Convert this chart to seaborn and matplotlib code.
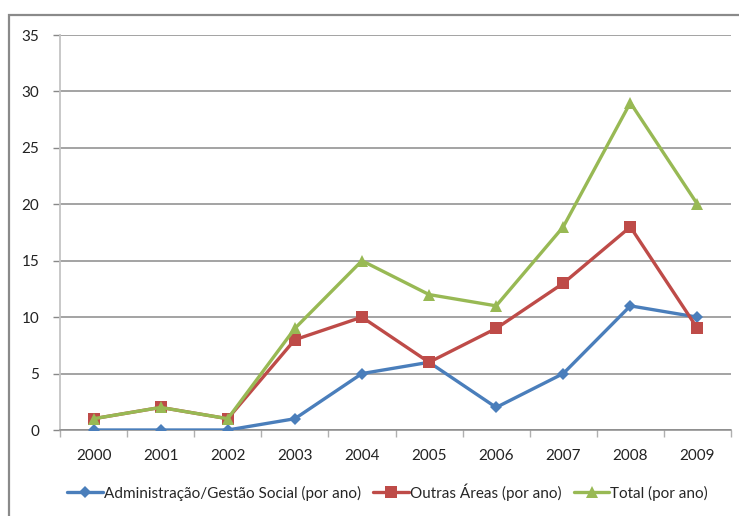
import matplotlib
matplotlib.use("Agg")
import matplotlib.pyplot as plt
import seaborn as sns
import pandas as pd
from matplotlib.patches import Rectangle
from matplotlib.ticker import FixedLocator, NullFormatter

years = ["2000", "2001", "2002", "2003", "2004", "2005", "2006", "2007", "2008", "2009"]
admin_gestao = [0, 0, 0, 1, 5, 6, 2, 5, 11, 10]
outras_areas = [1, 2, 1, 8, 10, 6, 9, 13, 18, 9]
total = [1, 2, 1, 9, 15, 12, 11, 18, 29, 20]

series_names = ["Administração/Gestão Social (por ano)",
                "Outras Áreas (por ano)",
                "Total (por ano)"]
colors = ["#4A7EBB", "#BE4B48", "#98B954"]
markers = ["D", "s", "^"]
marker_sizes = [6.5, 8.5, 8.5]

df = pd.DataFrame({
    "ano": years * 3,
    "valor": admin_gestao + outras_areas + total,
    "serie": [series_names[0]] * len(years) + [series_names[1]] * len(years) + [series_names[2]] * len(years),
})

sns.set_theme(style="white")
plt.rcParams["font.family"] = ["Lato", "DejaVu Sans"]

fig = plt.figure(figsize=(7.39, 5.16), dpi=100)
ax = fig.add_axes([60 / 739, 1 - 430 / 516, (731 - 60) / 739, (430 - 35) / 516])

# chart frame (only left and top edges inside the canvas)
fig.patches.append(Rectangle((9 / 739, -0.1), 1.2, 1 - 15 / 516 + 0.1,
                             transform=fig.transFigure, fill=False,
                             edgecolor="#8a8a8a", linewidth=1.6, zorder=0))

for name, col, mk, ms in zip(series_names, colors, markers, marker_sizes):
    sub = df[df["serie"] == name]
    sns.lineplot(data=sub, x="ano", y="valor", ax=ax, color=col, linewidth=2.4,
                 marker=mk, markersize=ms, markeredgewidth=0, label=name,
                 sort=False, zorder=3)

ax.set_xlim(-0.5, len(years) - 0.5)
ax.set_ylim(0, 35)
ax.set_yticks(range(0, 36, 5))
ax.set_xticks(range(len(years)))
ax.set_xticklabels(years)
ax.xaxis.set_minor_locator(FixedLocator([i - 0.5 for i in range(len(years) + 1)]))
ax.xaxis.set_minor_formatter(NullFormatter())
ax.tick_params(axis="x", which="major", length=0, pad=14, labelsize=11, colors="#222222")
ax.tick_params(axis="x", which="minor", length=5, width=1, color="#b0b0b0", direction="out", bottom=True)
ax.tick_params(axis="y", length=5, width=1, color="#888888", pad=10, labelsize=11, colors="#222222", left=True)
ax.yaxis.grid(True, color="#8a8a8a", linewidth=1.1)
ax.set_axisbelow(True)
ax.set_xlabel("")
ax.set_ylabel("")
for side in ["top", "right"]:
    ax.spines[side].set_visible(False)
ax.spines["left"].set_color("#c4c4c4")
ax.spines["left"].set_linewidth(1.3)
ax.spines["bottom"].set_color("#8a8a8a")
ax.spines["bottom"].set_linewidth(1.1)

ax.legend(loc="center", bbox_to_anchor=(387.5 / 739, 1 - 492 / 516),
          bbox_transform=fig.transFigure, ncol=3, frameon=False, fontsize=11,
          handlelength=2.35, handletextpad=0.05, columnspacing=0.8, borderaxespad=0)

fig.savefig("out.png", dpi=100)
